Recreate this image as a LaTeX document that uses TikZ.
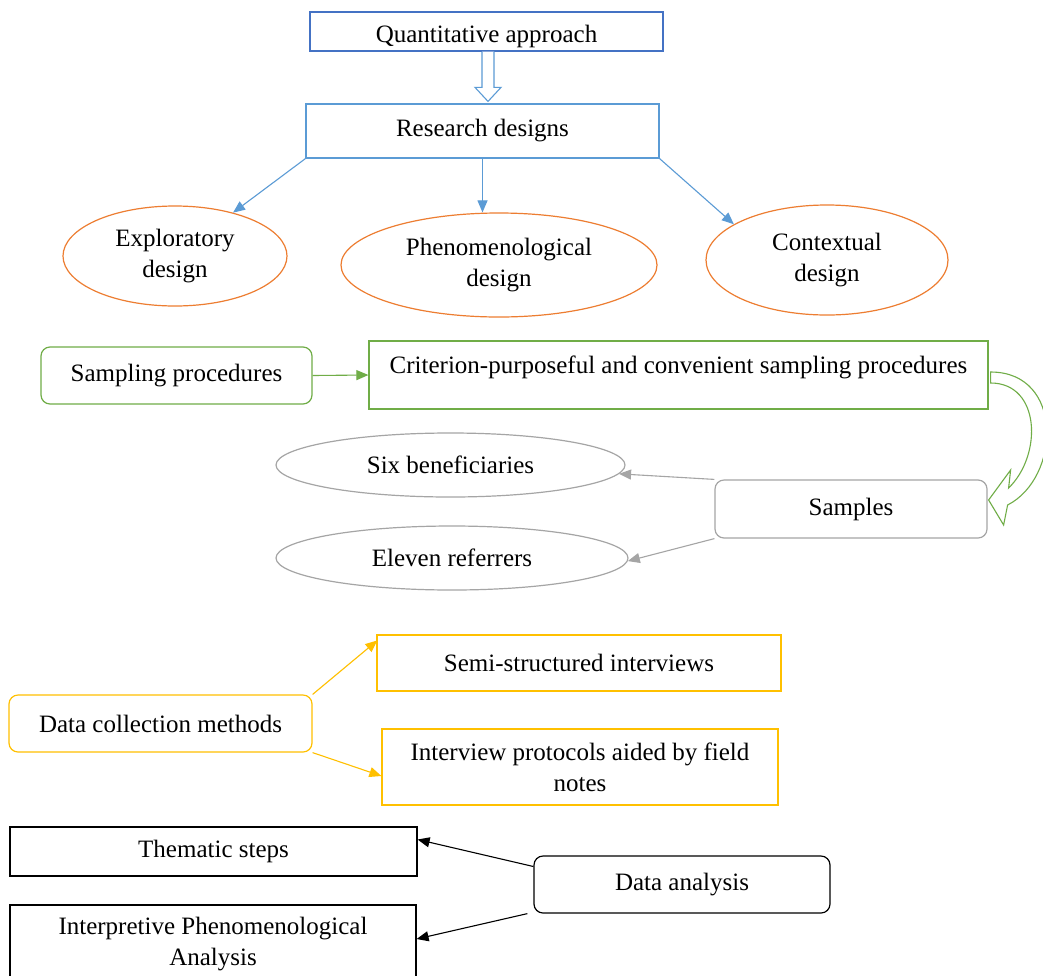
\documentclass[tikz,border=0pt]{standalone}
\usepackage{fontspec}
\setmainfont{Liberation Serif}
\usetikzlibrary{calc,shapes.geometric,arrows.meta}
\definecolor{bblue}{HTML}{5B9BD5}
\definecolor{dblue}{HTML}{4472C4}
\definecolor{oorange}{HTML}{ED7D31}
\definecolor{ggreen}{HTML}{70AD47}
\definecolor{ggray}{HTML}{A5A5A5}
\definecolor{ggold}{HTML}{FFC000}
\begin{document}
\begin{tikzpicture}[x=1pt,y=-1pt,
  every node/.style={font=\fontsize{25}{31}\selectfont, inner sep=0pt, align=center},
  base/.style={draw, line width=1.2pt, rectangle},
  rnd/.style={base, rounded corners=9pt},
  ell/.style={draw, line width=1.2pt, ellipse},
  tip/.style={-{Triangle[length=12pt,width=10pt]}, line width=1.1pt}
]
\useasboundingbox[fill=white] (0,0) rectangle (1043,975);

% top
\node[base, draw=dblue, minimum width=353, minimum height=39, text height=30pt, text depth=9pt] (qa) at (486.5,31.5) {Quantitative approach};
\node[base, draw=bblue, minimum width=353, minimum height=54] (rd) at (482.5,131) {Research designs};
\node[ell, draw=oorange, minimum width=224, minimum height=100] (ex) at (175,256) {Exploratory\\design};
\node[ell, draw=oorange, minimum width=316, minimum height=104] (ph) at (499,265) {Phenomenological\\design};
\node[ell, draw=oorange, minimum width=242, minimum height=110] (co) at (827,260) {Contextual\\design};

\coordinate (ha) at ($(qa.south)+(1.5,0)$);
\coordinate (hb) at (ha |- rd.north);
\draw[bblue, line width=1.1pt, fill=white] ($(ha)+(-6,0)$) -- ($(hb)+(-6,-16)$) -- ($(hb)+(-13,-16)$) -- ($(hb)+(0,-2)$) -- ($(hb)+(13,-16)$) -- ($(hb)+(6,-16)$) -- ($(ha)+(6,0)$);

\draw[tip, bblue] (rd.south west) -- (ex);
\draw[tip, bblue] (rd.south) -- (rd.south |- ph.north);
\draw[tip, bblue] (rd.south east) -- (co.159);

% sampling
\node[rnd, draw=ggreen, minimum width=271, minimum height=57] (sp) at (176.5,375.5) {Sampling procedures};
\node[base, draw=ggreen, minimum width=619, minimum height=68, text height=32pt, text depth=36pt] (cr) at (678.5,375) {Criterion-purposeful and convenient sampling procedures};
\draw[tip, ggreen] (sp.east) -- (cr.west);

\node[rnd, draw=ggray, minimum width=272, minimum height=58] (sa) at (851,509) {Samples};
\node[ell, draw=ggray, minimum width=349, minimum height=64] (six) at (450.5,465) {Six beneficiaries};
\node[ell, draw=ggray, minimum width=352, minimum height=64] (el) at (452,558) {Eleven referrers};
\draw[tip, ggray] (sa.north west) -- (six.-3);
\draw[tip, ggray] (sa.south west) -- (el.-1);

\coordinate (c0) at (cr.east);
\draw[ggreen, line width=1.1pt, fill=white]
  ($(c0)+(2,-3)$) .. controls ($(c0)+(76,-3)$) and ($(c0)+(72,103)$) .. ($(c0)+(19,130)$)
  -- ($(c0)+(15,150)$) -- ($(sa.east)+(1,-9)$) -- ($(c0)+(22,95)$) -- ($(c0)+(20,113)$)
  .. controls ($(c0)+(54,80)$) and ($(c0)+(52,8)$) .. ($(c0)+(2,8)$) -- cycle;

% data collection
\node[rnd, draw=ggold, minimum width=303, minimum height=57] (dc) at (160.5,723.5) {Data collection methods};
\node[base, draw=ggold, minimum width=404, minimum height=56] (ss) at (579,663) {Semi-structured interviews};
\node[base, draw=ggold, minimum width=396, minimum height=76] (ip) at (580,767) {Interview protocols aided by field\\notes};
\draw[tip, ggold] (dc.north east) -- ($(ss.north west)+(1,6)$);
\draw[tip, ggold] (dc.south east) -- ($(ip.west)+(0,9)$);

% data analysis
\node[base, draw=black, minimum width=407, minimum height=49] (ts) at (213.5,851.5) {Thematic steps};
\node[base, draw=black, minimum width=406, minimum height=78] (ipa) at (213,944) {Interpretive Phenomenological\\Analysis};
\node[rnd, draw=black, minimum width=296, minimum height=57] (da) at (682,884.5) {Data analysis};
\draw[tip, black] ($(da.west)+(0,-18)$) -- ($(ts.east)+(0,-12)$);
\draw[tip, black] ($(da.south west)+(-6,0)$) -- ($(ipa.east)+(0,-5)$);
\end{tikzpicture}
\end{document}
